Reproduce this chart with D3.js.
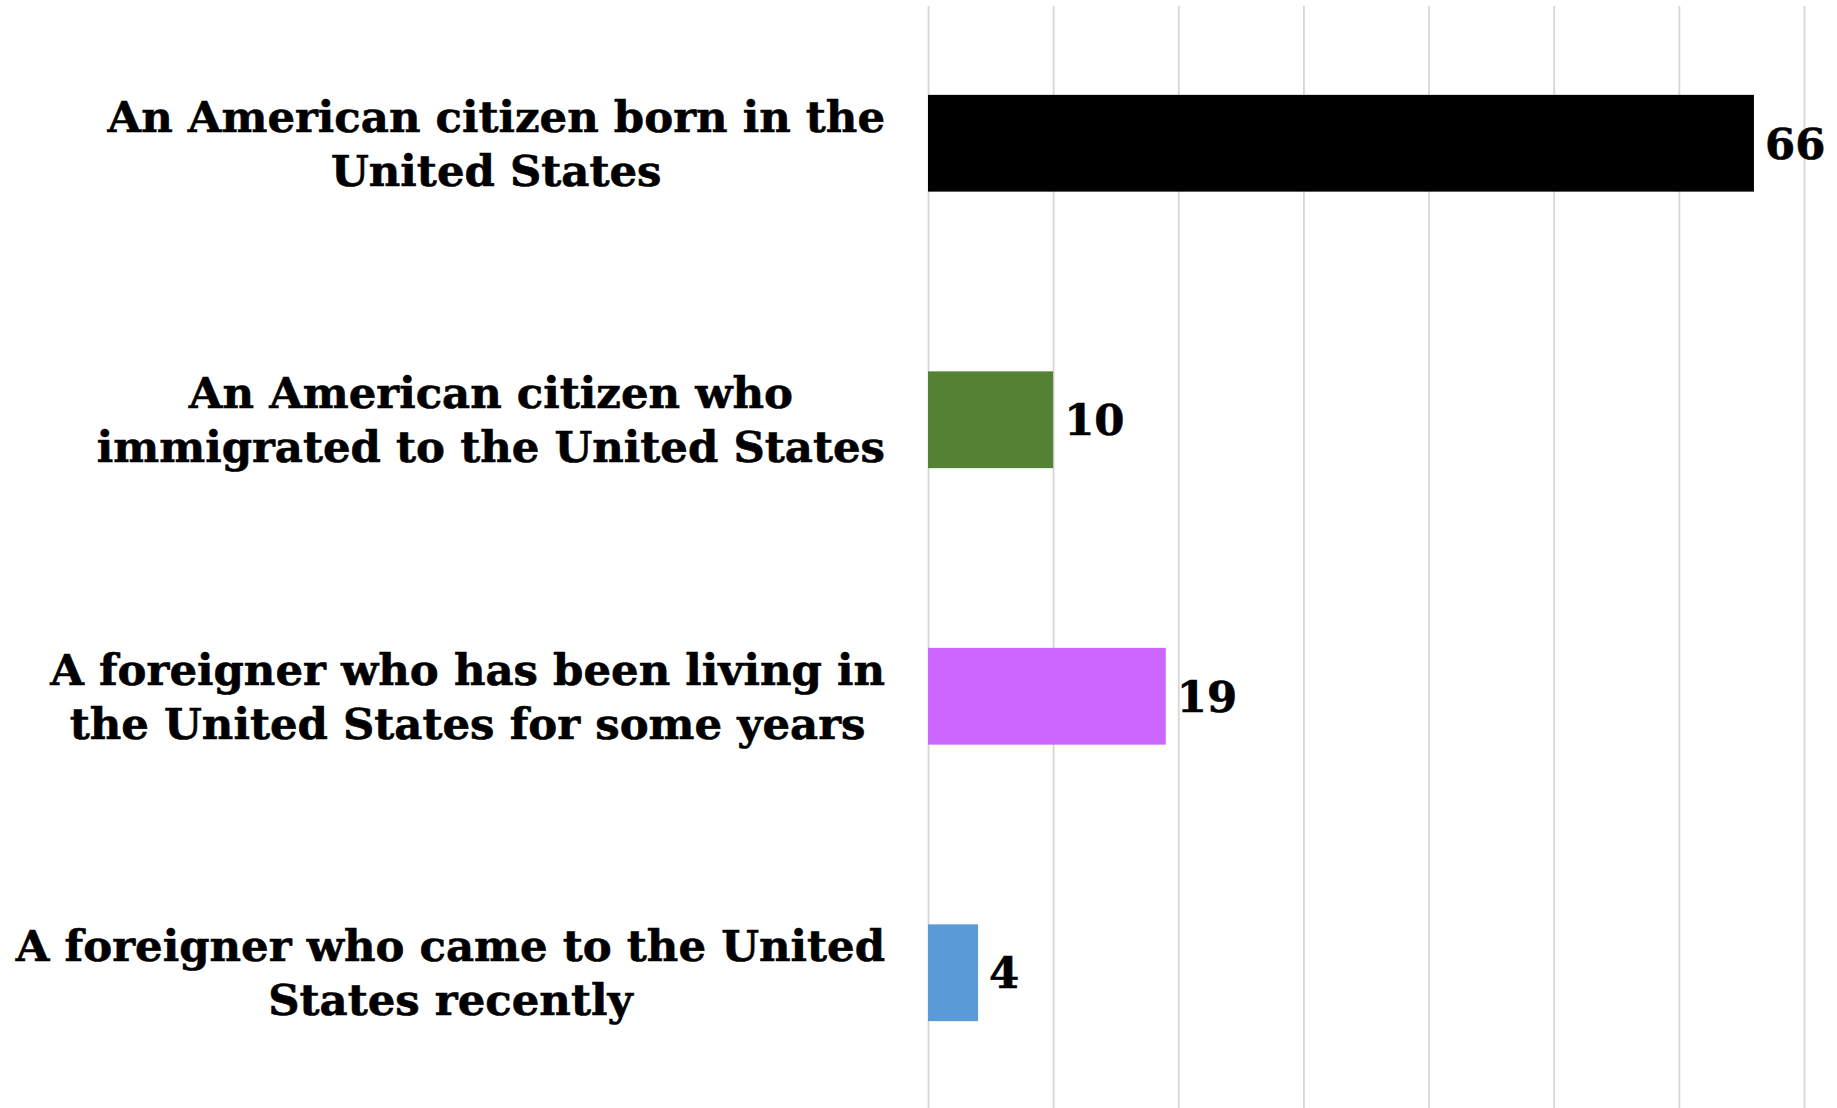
<!DOCTYPE html>
<html>
<head>
<meta charset="utf-8">
<script src="https://cdn.jsdelivr.net/npm/d3@7"></script>
<style>
body { margin: 0; background: #fff; }
svg { display: block; }
</style>
</head>
<body>
<svg id="chart" width="1837" height="1108"></svg>
<script>
// chart data
var categories = [
    ["An American citizen born in the", "United States"],
    ["An American citizen who", "immigrated to the United States"],
    ["A foreigner who has been living in", "the United States for some years"],
    ["A foreigner who came to the United", "States recently"]
];
var values = [66, 10, 19, 4];
var colors = ["#000000", "#548235", "#cc66ff", "#5b9bd5"];
var ticks = [0, 10, 20, 30, 40, 50, 60, 70];

var svg = d3.select("#chart");
var fontFam = "'DejaVu Serif', serif";
var fontSize = 43.4;
var left = 928, right = 1804;
var labelRight = 885;

var x = d3.scaleLinear().domain([0, 70]).range([left, right]);
var y = d3.scaleBand()
    .domain(d3.range(categories.length))
    .range([5, 1111])
    .paddingInner(0.65)
    .paddingOuter(0.325);

// vertical grid lines
svg.append("g")
    .attr("class", "grid")
    .attr("transform", "translate(0,1108)")
    .call(d3.axisBottom(x).tickValues(ticks).tickSize(-1102).tickFormat(""))
    .call(function(g){
        g.select(".domain").remove();
        g.selectAll("line").attr("stroke", "#d6d6d6").attr("stroke-width", 1.8);
    });

// bars
svg.append("g").selectAll("rect")
    .data(values)
    .enter().append("rect")
    .attr("x", x(0))
    .attr("y", function(d, i){ return y(i); })
    .attr("width", function(d){ return x(d) - x(0); })
    .attr("height", y.bandwidth())
    .attr("fill", function(d, i){ return colors[i]; });

// value labels
svg.append("g").selectAll("text")
    .data(values)
    .enter().append("text")
    .attr("x", function(d){ return x(d) + 11; })
    .attr("y", function(d, i){ return y(i) + y.bandwidth() / 2; })
    .attr("dy", "0.36em")
    .attr("font-family", fontFam)
    .attr("font-weight", "bold")
    .attr("font-size", fontSize)
    .attr("fill", "#000")
    .attr("stroke", "#000")
    .attr("stroke-width", 0.6)
    .text(function(d){ return d; });

// category labels, two lines, centred block right-aligned to the axis
var lineH = 54;
categories.forEach(function(lines, i){
    var t = svg.append("text")
        .attr("font-family", fontFam)
        .attr("font-weight", "bold")
        .attr("font-size", fontSize)
        .attr("fill", "#000")
        .attr("stroke", "#000")
        .attr("stroke-width", 0.6)
        .attr("text-anchor", "middle");
    var cy = y(i) + y.bandwidth() / 2;
    var spans = lines.map(function(s, k){
        return t.append("tspan")
            .attr("y", cy + (k - (lines.length - 1) / 2) * lineH)
            .attr("dy", "0.36em")
            .text(s);
    });
    var maxW = d3.max(spans, function(s){ return s.node().getComputedTextLength(); });
    spans.forEach(function(s){ s.attr("x", labelRight - maxW / 2); });
});
</script>
</body>
</html>
